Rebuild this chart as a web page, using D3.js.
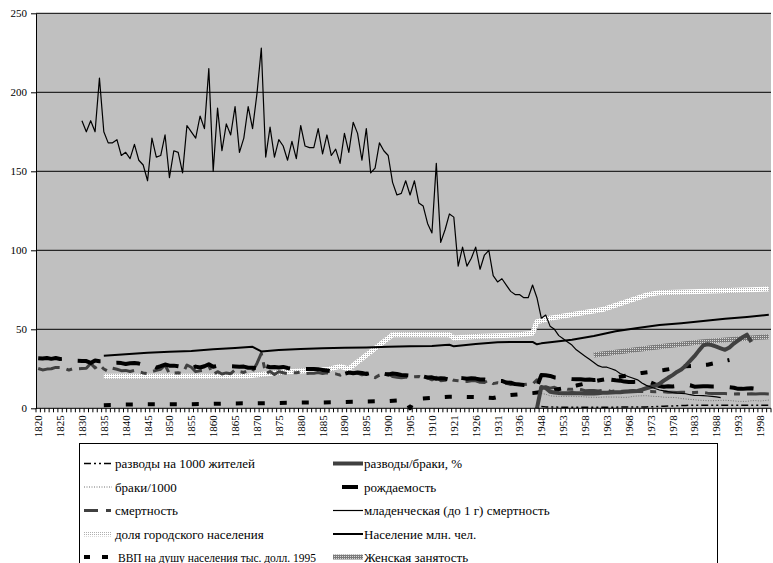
<!DOCTYPE html>
<html><head><meta charset="utf-8">
<script src="https://cdn.jsdelivr.net/npm/d3@7"></script>
<style>
body{margin:0;background:#fff;}
svg{display:block;}
text{font-family:"Liberation Serif","Times New Roman",serif;}
</style></head>
<body><svg id="c" width="773" height="563"></svg>
<script>
// ---- categories (years on the x axis) ----
const categories = [].concat(d3.range(1820, 1915), d3.range(1921, 1941), d3.range(1948, 2001));
const yTicks = [0, 50, 100, 150, 200, 250];

// ---- series: consecutive-category values starting at a given year ----
const birthStart = 1820;
const birth = [31.7,31.5,31.8,31.3,31.8,31.2,31.4,30.7,30.6,30.1,30.0,29.9,28.7,30.3,29.8,29.8,29.3,28.7,28.8,28.6,
28.0,28.5,28.6,28.3,27.6,28.1,27.2,25.8,26.7,27.7,27.0,27.0,26.6,26.1,25.1,25.0,26.4,25.8,26.6,27.9,
26.3,26.9,26.5,26.8,26.6,26.5,26.3,26.4,25.7,25.7,25.5,22.6,26.7,26.0,26.2,25.8,26.2,25.5,25.0,25.1,
24.6,24.9,24.8,24.8,24.7,24.3,23.9,23.5,23.1,23.0,21.8,22.6,22.2,22.7,22.3,21.7,22.4,22.2,21.8,21.9,
21.3,22.0,21.7,21.1,20.9,20.6,20.5,19.7,20.2,19.5,19.6,18.7,19.0,18.8,18.1,
20.7,19.3,19.1,18.7,19.0,18.8,18.2,18.2,17.7,18.0,17.4,17.3,16.3,16.2,15.3,15.0,14.7,14.6,14.6,13.6,
21.0,20.9,20.5,19.5,19.3,18.7,18.8,18.5,18.4,18.4,18.1,18.2,17.9,18.1,17.7,18.1,18.1,17.7,17.5,16.9,
16.7,16.7,16.8,17.1,16.9,16.4,15.2,14.1,13.6,14.0,13.8,14.1,14.9,14.9,14.6,13.7,13.8,13.9,14.0,13.8,
13.8,13.6,13.4,13.3,13.0,12.3,12.3,12.6,12.7,12.4,12.6,12.8,13.1];

const deathStart = 1820;
const death = [25.2,24.3,24.8,25.0,25.9,25.8,25.3,24.2,25.1,25.0,25.2,25.4,28.4,25.6,27.6,24.9,23.4,25.4,24.7,23.8,
24.0,23.3,24.0,23.1,22.4,21.9,23.3,24.0,24.7,27.4,21.9,22.3,22.5,22.0,27.4,26.0,23.2,23.7,24.1,26.8,
21.4,23.2,21.7,22.4,21.9,24.3,23.2,22.7,24.1,23.4,28.4,34.8,22.0,23.3,21.4,23.1,22.5,21.9,22.5,22.5,
22.9,22.0,22.2,22.2,22.6,22.0,22.5,22.0,21.8,21.0,22.8,22.6,22.5,22.3,21.2,22.3,20.2,19.4,21.0,21.3,
22.1,20.1,19.6,19.3,19.6,19.8,20.0,20.2,19.0,19.2,18.0,19.6,17.5,17.7,19.0,
17.7,17.5,17.2,17.0,17.4,17.4,16.5,16.4,17.9,15.6,16.2,15.8,15.8,15.1,15.7,15.3,15.0,15.4,15.3,18.0,
12.4,13.7,12.7,13.3,12.2,12.8,12.0,12.0,12.4,11.9,11.1,11.2,11.3,10.9,11.4,11.5,10.6,11.1,10.7,10.8,
10.9,11.3,10.6,10.6,10.6,10.6,10.4,10.6,10.5,10.1,10.2,10.0,10.1,10.1,10.0,10.0,10.1,10.0,9.6,9.4,
9.3,9.4,9.3,9.2,9.1,9.2,8.9,9.1,9.2,9.0,9.2,9.2,9.1];

const infantStart = 1830;
const infant = [182,175,182,175,209,175,168,168,170,160,162,158,167,157,154,144,171,159,160,173,
146,163,162,149,179,175,171,185,177,215,150,190,163,180,173,191,162,171,191,177,
199,228,159,178,159,170,166,157,169,158,179,166,165,165,177,161,173,160,164,155,
174,162,181,174,157,177,149,152,168,163,160,143,135,136,144,135,144,130,128,117,
111,155,105,113,123,
121,90,102,90,95,102,88,97,100,84,80,82,78,74,72,72,70,70,78,70,
57,59,52,50,46,44,42,40,37,35,33,31,29,27,26,26,25,24,22,21,
20,19,18,16,14.5,13.5,12.5,11.6,11,10.5,10,9.7,9.5,9.2,8.6,8.2,8.1,8,7.8,7.5,
7.2,6.7];

const divMarStart = 1940;
const divMar = [0,13.5,12.8,10.5,10.0,9.7,9.6,9.6,9.7,9.6,9.5,9.4,9.4,9.4,9.6,9.8,9.9,10.0,10.1,10.2,
10.4,10.6,10.8,11.0,11.8,12.7,13.5,14.2,15.5,17.5,19.3,21.0,23.0,24.5,27.0,30.0,33.0,36.5,39.8,40.5,
40.0,39.0,38.0,37.0,38.5,41.0,43.0,45.0,46.6,42.0];

const gdpStart = 1835;
const gdp = [2.0,null,null,null,null,2.4,null,null,null,null,2.6,null,null,null,null,2.6,null,null,null,null,
2.6,null,null,null,null,2.8,null,null,null,null,3.1,null,null,null,null,3.2,null,null,null,null,
3.4,null,null,null,null,3.6,null,null,null,null,3.7,null,null,null,null,4.0,null,null,null,null,
4.3,null,null,null,null,4.6,null,null,null,5.3,0,
5.8,null,null,null,null,6.8,null,null,7.3,null,7.3,null,null,null,null,7.0,null,null,6.5,null,
7.8,null,8.4,null,null,null,null,9.6,null,null,null,null,11.6,null,null,null,null,14.4,null,null,
null,null,17.6,null,null,null,null,20.0,null,null,null,null,22.4,null,null,null,null,24.2,null,null,
null,null,26.6,null,null,null,null,27.6,null,null,null,null,30.6];

const popYears = [1835,1840,1845,1850,1855,1860,1865,1869,1871,1875,1880,1885,1890,1895,1900,1905,1910,1913,1914,
1921,1926,1931,1936,1939,1940,1948,1950,1955,1960,1965,1970,1975,1980,1985,1990,1995,2000];
const pop = [33.3,34.2,35.2,35.8,36.3,37.3,38.2,38.9,36.0,36.9,37.5,38.0,38.3,38.5,38.9,39.2,39.5,40.0,40.2,
39.2,40.7,41.8,42.0,42.0,40.5,41.1,41.8,43.4,45.7,48.8,50.8,52.7,53.9,55.3,56.7,57.8,59.2];

const urbanYears = [1835,1868,1876,1886,1889,1891,1901,1914,1921,1926,1936,1939,1940,1950,1962,1968,1972,1975,1984,2000];
const urban = [20.3,20.5,23,24.5,26.5,25,46.5,46.5,44.5,45.5,46.5,47.5,54.8,57,62.5,68,71.7,73.2,74,75.5];

const femYears = [1960,1975,1985,2000];
const fem = [33.7,39,42.2,45.3];

const marriageStart = 1948;
const marriage = [9.4,8.9,7.9,7.6,7.6,7.5,7.6,7.6,7.4,7.4,7.2,7.0,7.0,6.9,7.1,7.2,7.1,7.1,7.0,6.9,
7.0,7.6,7.8,7.9,8.0,7.7,7.5,7.4,7.0,6.9,6.9,6.7,6.2,5.9,5.6,5.4,5.1,5.0,4.8,4.8,
4.9,5.0,5.1,4.9,4.7,4.4,4.4,4.4,4.8,4.9,4.6,4.9,5.2];

const divorceStart = 1948;
const divorce = [1.2,0.9,0.8,0.8,0.7,0.7,0.7,0.7,0.7,0.7,0.7,0.7,0.7,0.7,0.7,0.7,0.7,0.7,0.8,0.8,
0.8,0.8,0.8,0.9,0.9,1.0,1.1,1.2,1.3,1.4,1.5,1.6,1.7,1.8,1.9,2.0,1.9,1.9,1.9,1.9,
1.9,1.9,2.0,2.0,2.0,2.0,2.0,2.0,2.0,2.0,2.0,2.0,2.0];

const legendLabels = ["разводы на 1000 жителей","разводы/браки, %","браки/1000","рождаемость","смертность",
"младенческая (до 1 г) смертность","доля городского населения","Население млн. чел.",
"ВВП на душу населения тыс. долл. 1995","Женская занятость"];

// ---- helpers ----
function seq(startYear, vals){
  const i0 = categories.indexOf(startYear);
  return vals.map((v,k)=>[categories[i0+k], v]).filter(d=>d[1]!==null && d[0]!==undefined);
}
function pairs(ys, vs){ return ys.map((y,k)=>[y, vs[k]]); }

const FONT = "Liberation Serif";
const svg = d3.select("#c");
const x = d3.scaleBand().domain(categories).range([36, 771]).paddingInner(0).paddingOuter(0);
const y = d3.scaleLinear().domain([0,250]).range([408.3, 13.3]);
const cx = d => x(d) + x.bandwidth()/2;

const defs = svg.append("defs");
const p1 = defs.append("pattern").attr("id","urb").attr("patternUnits","userSpaceOnUse").attr("width",2).attr("height",2);
p1.append("rect").attr("width",2).attr("height",2).attr("fill","#ffffff");
p1.append("rect").attr("width",1).attr("height",1).attr("fill","#b0b0b0");
const p2 = defs.append("pattern").attr("id","fem").attr("patternUnits","userSpaceOnUse").attr("width",2).attr("height",2);
p2.append("rect").attr("width",2).attr("height",2).attr("fill","#7a7a7a");
p2.append("rect").attr("width",1).attr("height",1).attr("fill","#d8d8d8");

// plot background
svg.append("rect").attr("x",36).attr("y",13.3).attr("width",735).attr("height",395).attr("fill","#c0c0c0");

// gridlines
svg.append("g").selectAll("line").data(yTicks.filter(d=>d>0)).join("line")
  .attr("x1",36).attr("x2",771).attr("y1",d=>y(d)).attr("y2",d=>y(d))
  .attr("stroke","#000").attr("stroke-width",1);

const line = d3.line().x(d=>cx(d[0])).y(d=>y(d[1]));

const series = [
  {data: seq(marriageStart, marriage), stroke:"#707070", w:1, dash:"1,1.5"},
  {data: pairs(urbanYears, urban), stroke:"url(#urb)", w:5, dash:null},
  {data: pairs(femYears, fem), stroke:"url(#fem)", w:5, dash:null},
  {data: seq(deathStart, death), stroke:"#404040", w:3, dash:"22,7,6,7"},
  {data: seq(birthStart, birth), stroke:"#000", w:4, dash:"24,16"},
  {data: seq(gdpStart, gdp), stroke:"#000", w:4, dash:"7,15"},
  {data: seq(divMarStart, divMar), stroke:"#404040", w:4, dash:null},
  {data: pairs(popYears, pop), stroke:"#000", w:2, dash:null},
  {data: seq(infantStart, infant), stroke:"#000", w:1.2, dash:null},
  {data: seq(divorceStart, divorce), stroke:"#000", w:1.5, dash:"7,3,2,3,2,3"}
];
const gL = svg.append("g");
series.forEach(s=>{
  gL.append("path").attr("d", line(s.data)).attr("fill","none").attr("stroke",s.stroke)
    .attr("stroke-width",s.w).attr("stroke-dasharray",s.dash).attr("stroke-linejoin","round");
});

// axes
const yAxis = d3.axisLeft(y).tickValues(yTicks).tickSize(5).tickSizeOuter(0);
const gy = svg.append("g").attr("transform","translate(36,0)").call(yAxis)
  .attr("font-family",FONT).attr("font-size",11);
gy.selectAll("text").attr("fill","#000").attr("x",-9);
gy.selectAll("line,path").attr("stroke","#000");

const gx = svg.append("g").attr("transform","translate(0,408.3)").attr("font-family",FONT);
gx.append("line").attr("x1",36).attr("x2",771).attr("stroke","#000");
gx.selectAll("line.t").data(d3.range(categories.length+1)).join("line").attr("class","t")
  .attr("x1",i=>36+i*x.step()).attr("x2",i=>36+i*x.step()).attr("y1",0).attr("y2",4).attr("stroke","#000");
gx.selectAll("text").data(categories.filter((c,i)=>i%5===0)).join("text")
  .attr("transform",d=>`translate(${cx(d)+4},7) rotate(-90)`)
  .attr("text-anchor","end").attr("font-size",11).text(d=>d);

// legend
const lg = svg.append("g").attr("font-family",FONT);
lg.append("rect").attr("x",79.5).attr("y",443.5).attr("width",638).attr("height",140).attr("fill","#fff").attr("stroke","#000");
const rows = [463.5, 487, 510.5, 534, 557];
const legendSym = [
  {stroke:"#000", w:1.5, dash:"7,3,2,3,2,3", x1:84, x2:112, tx:115, fs:13},
  {stroke:"#404040", w:4, dash:null, x1:333, x2:363, tx:364, fs:13},
  {stroke:"#707070", w:1, dash:"1,1.5", x1:84, x2:112, tx:115, fs:13},
  {stroke:"#000", w:4, dash:null, x1:342, x2:358, tx:364, fs:13},
  {stroke:"#404040", w:3, dash:"14,8,5,20", x1:84, x2:112, tx:115, fs:13},
  {stroke:"#000", w:1.2, dash:null, x1:333, x2:363, tx:364, fs:13},
  {stroke:"url(#urb)", w:5, dash:null, x1:84, x2:112, tx:115, fs:13},
  {stroke:"#000", w:2, dash:null, x1:333, x2:363, tx:364, fs:13},
  {stroke:"#000", w:4, dash:"6,12", x1:84, x2:112, tx:118, fs:11.5},
  {stroke:"url(#fem)", w:5, dash:null, x1:333, x2:363, tx:364, fs:13}
];
legendSym.forEach((s,i)=>{
  const ry = rows[Math.floor(i/2)];
  lg.append("line").attr("x1",s.x1).attr("x2",s.x2).attr("y1",ry).attr("y2",ry)
    .attr("stroke",s.stroke).attr("stroke-width",s.w).attr("stroke-dasharray",s.dash);
  lg.append("text").attr("x",s.tx).attr("y",ry+4.5).attr("font-size",s.fs).text(legendLabels[i]);
});
</script></body></html>
